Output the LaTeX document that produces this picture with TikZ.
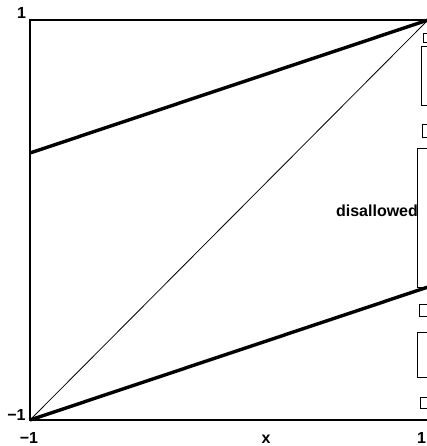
\documentclass[tikz,border=0pt]{standalone}
\usepackage{fontspec}
\setmainfont{Liberation Sans}
\usepackage{tikz}
\usetikzlibrary{positioning}

\begin{document}
\begin{tikzpicture}[
  x=1pt, y=-1pt,
  ticklabel/.style={
    inner sep=0pt, anchor=base,
    font=\fontsize{16}{18}\selectfont\bfseries
  },
  frame/.style={line width=2pt},
  bound/.style={line width=3.4pt},
  diagonal/.style={line width=0.8pt},
  legendbox/.style={line width=1pt}
]
\useasboundingbox (0,0) rectangle (427,446);
\clip (0,0) rectangle (427,446);

% corners of the square
\coordinate (sw) at (30,420);
\coordinate (ne) at (428,20);
\coordinate (upleft) at (30,153);
\coordinate (lowright) at (428,287);

\draw [frame] (30,20) rectangle (ne |- sw);
\draw [diagonal] (sw) -- (ne);
\draw [bound] (upleft) -- (ne);
\draw [bound] (sw) -- (lowright);

% legend boxes, cut at the right edge
\draw [legendbox] (423,34) rectangle (440,43);
\draw [legendbox] (421,47) rectangle (440,106);
\draw [legendbox] (422,125) rectangle (440,138);
\draw [legendbox] (417,149) rectangle (440,287);
\draw [legendbox] (419,304) rectangle (440,316);
\draw [legendbox] (417,332) rectangle (440,377);
\draw [legendbox] (420,397) rectangle (440,408);

\node [ticklabel] (ymax) at (21.5,19) {1};
\node [ticklabel] (ymin) at (16.5,420) {−1};
\node [ticklabel] (xmin) at (29,443) {−1};
\node [ticklabel] (xlab) at (266,443) {x};
\node [ticklabel, anchor=base west] (xmax) at (417,443) {1};
\node [ticklabel] (region) at (377,216) {disallowed};
\end{tikzpicture}
\end{document}
